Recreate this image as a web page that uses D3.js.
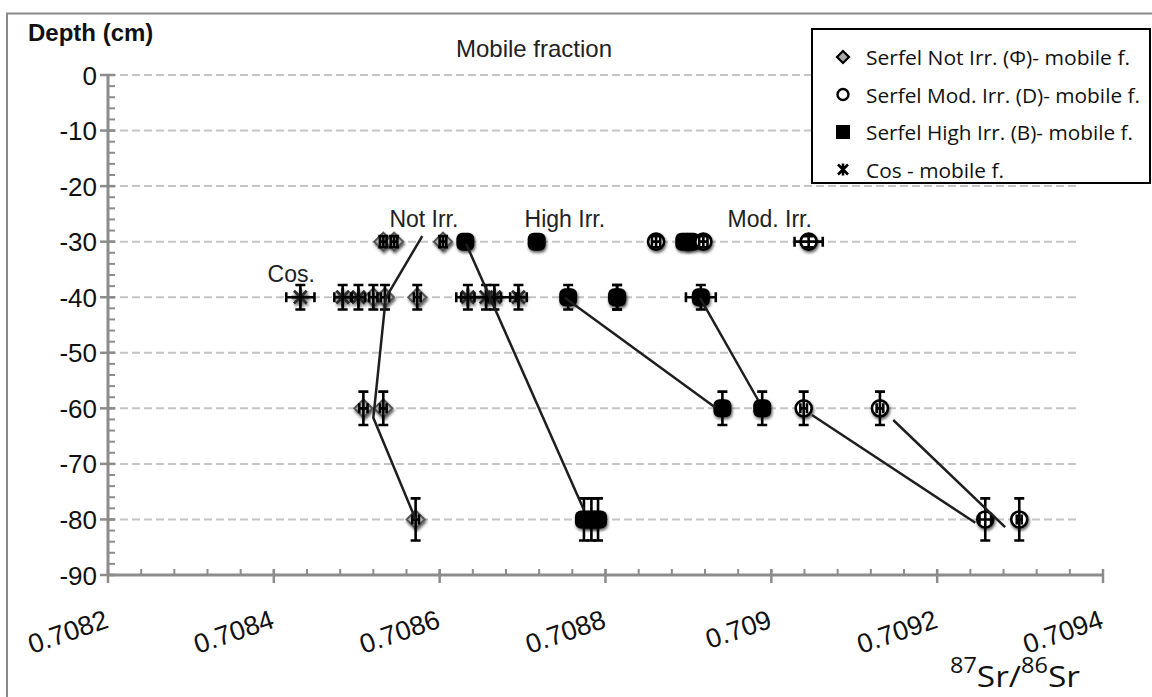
<!DOCTYPE html>
<html><head><meta charset="utf-8">
<script src="https://cdn.jsdelivr.net/npm/d3@7"></script>
<style>body{margin:0;background:#fff}svg{display:block}</style>
</head><body>
<svg id="c" width="1152" height="697"></svg>
<script>
// ---------- data ----------
const xTicks = [0.7082, 0.7084, 0.7086, 0.7088, 0.709, 0.7092, 0.7094];
const xTickLabels = ["0.7082", "0.7084", "0.7086", "0.7088", "0.709", "0.7092", "0.7094"];
const yTicks = [0, -10, -20, -30, -40, -50, -60, -70, -80, -90];
const yTickLabels = ["0", "-10", "-20", "-30", "-40", "-50", "-60", "-70", "-80", "-90"];
const gridDepths = [0, -10, -20, -30, -40, -50, -60, -70, -80];

// Serfel Not Irr. (diamond)
const notIrrX     = [0.708532, 0.708545, 0.708604, 0.708520, 0.708534, 0.708573, 0.708508, 0.708532, 0.708571];
const notIrrDepth = [-30, -30, -30, -40, -40, -40, -60, -60, -80];
const notIrrXErr  = [0.000004, 0.000004, 0.000004, 0.000005, 0.000005, 0.000004, 0.000005, 0.000004, 0.000004];
const notIrrYErr  = [1, 1, 1, 2.2, 2.2, 2.2, 3, 3, 3.8];

// Serfel High Irr. (filled square)
const highIrrX     = [0.708631, 0.708717, 0.708895, 0.708903, 0.708755, 0.708814, 0.708915, 0.708941, 0.708989, 0.708774, 0.708783, 0.708791];
const highIrrDepth = [-30, -30, -30, -30, -40, -40, -40, -60, -60, -80, -80, -80];
const highIrrXErr  = [0.000004, 0.000007, 0.000004, 0.000004, 0.000004, 0.000005, 0.000018, 0.000003, 0.000003, 0.000004, 0.000004, 0.000004];
const highIrrYErr  = [1, 1, 1, 1, 2.2, 2.2, 2.2, 3, 3, 3.8, 3.8, 3.8];

// Serfel Mod. Irr. (open circle)
const modIrrX     = [0.708861, 0.708918, 0.709045, 0.709039, 0.709131, 0.709258, 0.709299];
const modIrrDepth = [-30, -30, -30, -60, -60, -80, -80];
const modIrrXErr  = [0.000005, 0.000005, 0.000017, 0.000004, 0.000004, 0.000007, 0.000003];
const modIrrYErr  = [1, 1, 1, 3, 3, 3.8, 3.8];

// Cos (asterisk)
const cosX     = [0.708432, 0.708483, 0.708502, 0.708634, 0.708656, 0.708666, 0.708695, 0.708814];
const cosDepth = [-40, -40, -40, -40, -40, -40, -40, -40];
const cosXErr  = [0.000017, 0.000010, 0.000008, 0.000008, 0.000036, 0.000008, 0.000010, 0.000006];
const cosYErr  = [2.2, 2.2, 2.2, 2.2, 2.2, 2.2, 2.2, 2.2];

// hand-drawn trend lines [x, depth]
const trendNotIrr  = [[0.708579, -29], [0.708535, -40.1], [0.708520, -61.7], [0.708571, -80]];
const trendHighA   = [[0.708632, -30.4], [0.708774, -78.3]];
const trendHighB   = [[0.708751, -40.1], [0.708932, -59.8]];
const trendHighC   = [[0.708914, -40.1], [0.708984, -58.5]];
const trendModA    = [[0.709049, -61.2], [0.709246, -80.6]];
const trendModB    = [[0.709147, -62.1], [0.709282, -81.4]];

const groupLabels = ["Not Irr.", "High Irr.", "Mod. Irr.", "Cos."];
const groupLabelX = [0.708581, 0.708751, 0.708998, 0.708421];
const groupLabelDepth = [-27.3, -27.3, -27.3, -37.3];

const legendLabels = ["Serfel Not Irr. (\u03A6)- mobile f.", "Serfel Mod. Irr. (D)- mobile  f.", "Serfel High Irr. (B)- mobile f.", "Cos - mobile f."];

// ---------- drawing ----------
const svg = d3.select("#c");
const x = d3.scaleLinear().domain([0.7082, 0.7094]).range([108, 1103]);
const y = d3.scaleLinear().domain([0, -90]).range([75, 575]);

const defs = svg.append("defs");
const f = defs.append("filter").attr("id", "sh").attr("x", "-60%").attr("y", "-60%").attr("width", "220%").attr("height", "220%");
f.append("feGaussianBlur").attr("in", "SourceAlpha").attr("stdDeviation", 1.8).attr("result", "b");
f.append("feOffset").attr("in", "b").attr("dx", 0.5).attr("dy", 1.5).attr("result", "o");
f.append("feComponentTransfer").attr("in", "o").attr("result", "o2").append("feFuncA").attr("type", "linear").attr("slope", 0.65);
const m = f.append("feMerge");
m.append("feMergeNode").attr("in", "o2");
m.append("feMergeNode").attr("in", "SourceGraphic");

// outer frame
svg.append("path").attr("d", "M7,700 L7,13.5 L1160,13.5").attr("fill", "none").attr("stroke", "#8a8a8a").attr("stroke-width", 2);

// grid
svg.append("g").selectAll("line").data(gridDepths).join("line")
  .attr("x1", x(0.7082)).attr("x2", 1078)
  .attr("y1", d => y(d)).attr("y2", d => y(d))
  .attr("stroke", "#c4c4c4").attr("stroke-width", 2).attr("stroke-dasharray", "8,4");

// axes
const axisCol = "#8c8c8c";
const gx = svg.append("g").attr("transform", `translate(0,${y(-90)})`);
const minorX = d3.range(0, 31).map(i => 0.7082 + i * 0.00004);
gx.append("line").attr("x1", x(0.7082)).attr("x2", x(0.7094)).attr("stroke", axisCol).attr("stroke-width", 3);
gx.selectAll(".mn").data(minorX).join("line").attr("class", "mn")
  .attr("x1", d => x(d)).attr("x2", d => x(d)).attr("y1", 0).attr("y2", -6)
  .attr("stroke", axisCol).attr("stroke-width", 2);
gx.selectAll(".mj").data(xTicks).join("line").attr("class", "mj")
  .attr("x1", d => x(d)).attr("x2", d => x(d)).attr("y1", -6).attr("y2", 8)
  .attr("stroke", axisCol).attr("stroke-width", 2.5);
gx.selectAll("text").data(xTicks).join("text")
  .attr("transform", d => `translate(${x(d) + 2},${52}) rotate(-19)`)
  .attr("text-anchor", "end")
  .attr("font-family", "'Liberation Sans', Arial, sans-serif").attr("font-size", 27).attr("fill", "#111")
  .text((d, i) => xTickLabels[i]);

const gy = svg.append("g").attr("transform", `translate(${x(0.7082)},0)`);
const minorY = d3.range(0, 46).map(i => -i * 2);
gy.append("line").attr("y1", y(0)).attr("y2", y(-90)).attr("stroke", axisCol).attr("stroke-width", 3);
gy.selectAll(".mn").data(minorY).join("line").attr("class", "mn")
  .attr("y1", d => y(d)).attr("y2", d => y(d)).attr("x1", 0).attr("x2", 7)
  .attr("stroke", axisCol).attr("stroke-width", 2);
gy.selectAll(".mj").data(yTicks).join("line").attr("class", "mj")
  .attr("y1", d => y(d)).attr("y2", d => y(d)).attr("x1", -8).attr("x2", 7)
  .attr("stroke", axisCol).attr("stroke-width", 2.5);
gy.selectAll("text").data(yTicks).join("text")
  .attr("x", -11).attr("y", d => y(d) + 9.5).attr("text-anchor", "end")
  .attr("font-family", "'Liberation Sans', Arial, sans-serif").attr("font-size", 26).attr("fill", "#111")
  .text((d, i) => yTickLabels[i]);

// titles
svg.append("text").attr("x", 28).attr("y", 41).attr("font-family", "'Liberation Sans', Arial, sans-serif")
  .attr("font-weight", "bold").attr("font-size", 24).attr("fill", "#111").text("Depth (cm)");
svg.append("text").attr("x", 534).attr("y", 57).attr("text-anchor", "middle").attr("font-family", "'Liberation Sans', Arial, sans-serif")
  .attr("font-size", 24).attr("fill", "#222").text("Mobile fraction");

const xt = svg.append("text").attr("x", 950).attr("y", 687).attr("font-family", "'Open Sans', sans-serif").attr("fill", "#111")
  .attr("textLength", 130).attr("lengthAdjust", "spacingAndGlyphs");
xt.append("tspan").attr("font-size", 21).attr("dy", -14).text("87");
xt.append("tspan").attr("font-size", 30).attr("dy", 14).text("Sr/");
xt.append("tspan").attr("font-size", 21).attr("dy", -14).text("86");
xt.append("tspan").attr("font-size", 30).attr("dy", 14).text("Sr");

// group labels
svg.append("g").selectAll("text").data(groupLabels).join("text")
  .attr("x", (d, i) => x(groupLabelX[i])).attr("y", (d, i) => y(groupLabelDepth[i]))
  .attr("text-anchor", "middle").attr("font-family", "'Liberation Sans', Arial, sans-serif")
  .attr("font-size", 23).attr("fill", "#222").text(d => d);

// marker shapes
function diamond(g) {
  g.append("path").attr("d", "M0,-9 L9,0 L0,9 L-9,0 Z").attr("fill", "#b0b0b0").attr("stroke", "#555").attr("stroke-width", 2);
}
function square(g) {
  g.append("rect").attr("x", -9).attr("y", -9).attr("width", 18).attr("height", 18).attr("rx", 6).attr("fill", "#000");
}
function circle(g) {
  g.append("circle").attr("r", 8).attr("fill", "#fff").attr("stroke", "#000").attr("stroke-width", 2.6);
}
function star(g, s) {
  s = s || 8;
  const c = 0.707 * s;
  g.append("path").attr("d", `M0,${-s} L0,${s} M${-c},${-c} L${c},${c} M${-c},${c} L${c},${-c} M${-s},0 L${s},0`)
    .attr("stroke", "#2a2a2a").attr("stroke-width", 2.8).attr("fill", "none");
}

function series(xs, ds, xe, ye, shape) {
  const pts = xs.map((v, i) => ({x: v, d: ds[i], xe: xe[i], ye: ye[i]}));
  const g = svg.append("g");
  g.selectAll("g").data(pts).join("g")
    .attr("transform", p => `translate(${x(p.x)},${y(p.d)})`)
    .attr("filter", "url(#sh)")
    .each(function () { shape(d3.select(this)); });
  return pts;
}
function errorBars(pts) {
  const g = svg.append("g").attr("stroke", "#000").attr("stroke-width", 2.6).attr("fill", "none");
  pts.forEach(p => {
    const cx = x(p.x), cy = y(p.d);
    const y1 = y(p.d + p.ye), y2 = y(p.d - p.ye);
    g.append("path").attr("d", `M${cx},${y1} L${cx},${y2} M${cx - 5},${y1} L${cx + 5},${y1} M${cx - 5},${y2} L${cx + 5},${y2}`);
    const x1 = x(p.x - p.xe), x2 = x(p.x + p.xe);
    g.append("path").attr("d", `M${x1},${cy} L${x2},${cy} M${x1},${cy - 5} L${x1},${cy + 5} M${x2},${cy - 5} L${x2},${cy + 5}`);
  });
}

const pCos = series(cosX, cosDepth, cosXErr, cosYErr, g => star(g, 9));
const pNot = series(notIrrX, notIrrDepth, notIrrXErr, notIrrYErr, diamond);
const pHigh = series(highIrrX, highIrrDepth, highIrrXErr, highIrrYErr, square);
const pMod = series(modIrrX, modIrrDepth, modIrrXErr, modIrrYErr, circle);
[pCos, pNot, pHigh, pMod].forEach(errorBars);

// trend lines
const line = d3.line().x(p => x(p[0])).y(p => y(p[1]));
svg.append("g").selectAll("path").data([trendNotIrr, trendHighA, trendHighB, trendHighC, trendModA, trendModB]).join("path")
  .attr("d", line).attr("fill", "none").attr("stroke", "#1e1e1e").attr("stroke-width", 2.5);

// legend
const lg = svg.append("g");
lg.append("rect").attr("x", 812).attr("y", 29).attr("width", 338).attr("height", 154)
  .attr("fill", "#fff").attr("stroke", "#000").attr("stroke-width", 2);
const legendShapes = [
  g => g.append("path").attr("d", "M0,-6 L6,0 L0,6 L-6,0 Z").attr("fill", "#a8a8a8").attr("stroke", "#000").attr("stroke-width", 2.2),
  g => g.append("circle").attr("r", 5.5).attr("fill", "#fff").attr("stroke", "#000").attr("stroke-width", 2.4),
  g => g.append("rect").attr("x", -7).attr("y", -7).attr("width", 14).attr("height", 14).attr("fill", "#000"),
  g => { const c = 5; g.append("path").attr("d", `M0,-6 L0,6 M${-c},${-c} L${c},${c} M${-c},${c} L${c},${-c}`).attr("stroke", "#000").attr("stroke-width", 2.6); }
];
const legendWidths = [264, 274, 267, 138];
legendLabels.forEach((t, i) => {
  const cy = 57 + i * 37.5;
  const g = lg.append("g").attr("transform", `translate(843,${cy})`);
  legendShapes[i](g);
  lg.append("text").attr("x", 866).attr("y", cy + 8).attr("font-family", "'Open Sans', sans-serif")
    .attr("font-size", 20).attr("fill", "#111")
    .attr("textLength", legendWidths[i]).attr("lengthAdjust", "spacingAndGlyphs").text(t);
});
</script>
</body></html>
